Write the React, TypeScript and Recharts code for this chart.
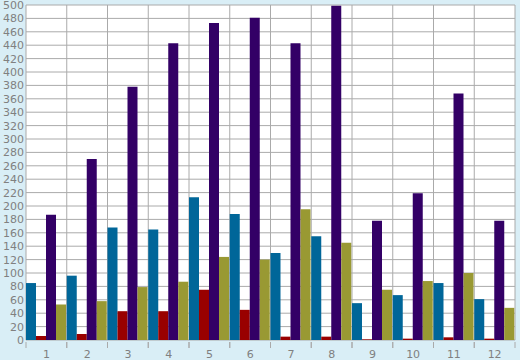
import React from "react";
import { BarChart, Bar, XAxis, YAxis, CartesianGrid } from "recharts";

const categories = ["1", "2", "3", "4", "5", "6", "7", "8", "9", "10", "11", "12"];
const blueValues = [85, 96, 168, 165, 213, 188, 130, 155, 55, 67, 85, 61];
const redValues = [6, 9, 43, 43, 75, 45, 5, 5, 1, 2, 4, 2];
const purpleValues = [187, 270, 378, 443, 473, 481, 443, 499, 178, 219, 368, 178];
const oliveValues = [53, 58, 79, 87, 124, 120, 195, 145, 75, 88, 100, 48];
const yTicks = Array.from({ length: 26 }, (_, i) => i * 20);

const data = categories.map((c, i) => ({
  cat: c,
  blue: blueValues[i],
  red: redValues[i],
  purple: purpleValues[i],
  olive: oliveValues[i],
}));

const FONT = "'DejaVu Sans', sans-serif";
const TEXT = "#808080";
const GRID = "#aaaaaa";

const XTick = (props: any) => {
  const { x, y, payload, width, visibleTicksCount } = props;
  const bw = width / visibleTicksCount;
  return (
    <g>
      <line x1={x - bw / 2} x2={x - bw / 2} y1={y} y2={y + 6} stroke={GRID} />
      <line x1={x + bw / 2} x2={x + bw / 2} y1={y} y2={y + 6} stroke={GRID} />
      <text x={x} y={y + 8} dy="0.71em" textAnchor="middle" fill={TEXT} fontSize={11} fontFamily={FONT}>
        {payload.value}
      </text>
    </g>
  );
};

export default function App() {
  return (
    <div style={{ position: "absolute", left: 0, top: 0, width: 520, height: 360, background: "#d9eef6" }}>
      <BarChart
        width={520}
        height={360}
        data={data}
        margin={{ top: 5, right: 5, left: 0, bottom: 0 }}
        barCategoryGap={0}
        barGap={0}
      >
        <CartesianGrid
          stroke={GRID}
          fill="#ffffff"
          fillOpacity={1}
          verticalCoordinatesGenerator={({ offset }: any) =>
            Array.from({ length: categories.length + 1 }, (_, i) => offset.left + (i * offset.width) / categories.length)
          }
        />
        <XAxis
          dataKey="cat"
          height={20}
          axisLine={false}
          tickLine={false}
          tickSize={0}
          tick={<XTick />}
          interval={0}
        />
        <YAxis
          width={26}
          domain={[0, 500]}
          ticks={yTicks}
          interval={0}
          axisLine={false}
          tickLine={false}
          tickSize={0}
          tickMargin={2}
          tick={{ fill: TEXT, fontSize: 11, fontFamily: FONT }}
        />
        <Bar dataKey="blue" fill="#006699" isAnimationActive={false} />
        <Bar dataKey="red" fill="#990000" isAnimationActive={false} />
        <Bar dataKey="purple" fill="#330066" isAnimationActive={false} />
        <Bar dataKey="olive" fill="#999933" isAnimationActive={false} />
      </BarChart>
    </div>
  );
}
